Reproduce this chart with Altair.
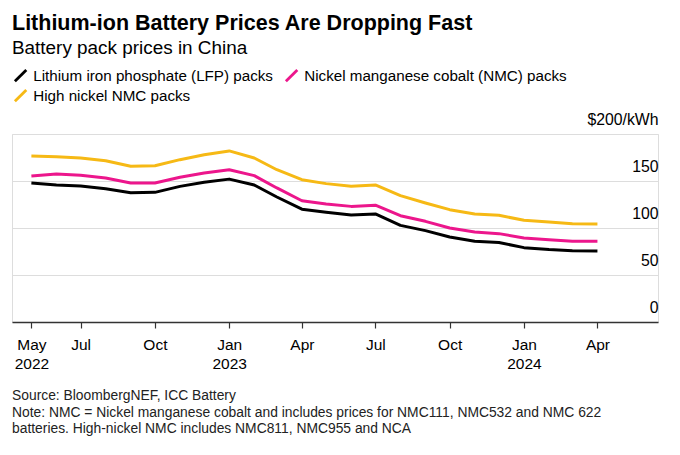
import altair as alt
import pandas as pd

FONT = "Liberation Sans"

months = [
    "2022-05-01", "2022-06-01", "2022-07-01", "2022-08-01", "2022-09-01", "2022-10-01",
    "2022-11-01", "2022-12-01", "2023-01-01", "2023-02-01", "2023-03-01", "2023-04-01",
    "2023-05-01", "2023-06-01", "2023-07-01", "2023-08-01", "2023-09-01", "2023-10-01",
    "2023-11-01", "2023-12-01", "2024-01-01", "2024-02-01", "2024-03-01", "2024-04-01",
]
lfp = [147.9, 145.7, 144.7, 141.8, 137.5, 137.9, 144.3, 148.6, 152.0, 145.7, 133.0, 120.0,
       116.7, 113.8, 115.0, 102.8, 97.2, 90.4, 85.8, 84.6, 79.1, 77.0, 75.9, 75.5]
nmc = [155.3, 157.4, 156.0, 153.2, 147.9, 147.9, 153.9, 158.5, 162.0, 155.7, 142.6, 129.0,
       125.5, 123.0, 124.3, 113.1, 107.1, 100.0, 95.7, 94.0, 89.4, 87.6, 85.8, 85.8]
high_ni = [176.7, 175.9, 174.5, 171.6, 165.6, 166.3, 172.7, 178.0, 182.0, 174.5, 162.0, 151.4,
           147.2, 144.3, 145.8, 134.4, 126.6, 119.5, 114.9, 113.5, 108.2, 106.4, 104.6, 104.3]

series_names = [
    "Lithium iron phosphate (LFP) packs",
    "Nickel manganese cobalt (NMC) packs",
    "High nickel NMC packs",
]
series_colors = ["#000000", "#ec168c", "#f6b915"]

y_ticks = [0, 50, 100, 150, 200]
x_ticks = [(2022, 5), (2022, 7), (2022, 10), (2023, 1), (2023, 4), (2023, 7),
           (2023, 10), (2024, 1), (2024, 4)]

footnote = [
    "Source: BloombergNEF, ICC Battery",
    "Note: NMC = Nickel manganese cobalt and includes prices for NMC111, NMC532 and NMC 622",
    "batteries. High-nickel NMC includes NMC811, NMC955 and NCA",
]

rows = []
for name, vals in zip(series_names, [lfp, nmc, high_ni]):
    for d, v in zip(months, vals):
        rows.append({"date": d, "series": name, "value": v})
df = pd.DataFrame(rows)

x_values = [alt.DateTime(year=y, month=m, date=1, utc=True) for y, m in x_ticks]

label_expr = (
    "[utcFormat(datum.value, '%b'), "
    "(utcFormat(datum.value, '%m') == '01' || utcFormat(datum.value, '%Y-%m') == '2022-05') "
    "? utcFormat(datum.value, '%Y') : '']"
)

lines = alt.Chart(df).mark_line(strokeWidth=3, strokeJoin="round").encode(
    x=alt.X(
        "date:T",
        scale=alt.Scale(
            type="utc",
            domain=[alt.DateTime(year=2022, month=4, date=7, utc=True),
                    alt.DateTime(year=2024, month=6, date=15, utc=True)],
        ),
        axis=alt.Axis(
            title=None, values=x_values, labelExpr=label_expr, grid=False,
            domainColor="#333333", domainWidth=1.5, tickColor="#333333",
            tickSize=6, tickWidth=1.2, labelFont=FONT, labelFontSize=15.5,
            labelColor="#000000", labelBaseline="alphabetic", labelPadding=21,
            labelLineHeight=19, labelFlush=False, labelOverlap=False,
        ),
    ),
    y=alt.Y(
        "value:Q",
        scale=alt.Scale(domain=[0, 200]),
        axis=alt.Axis(
            title=None, orient="right", values=y_ticks, domain=False, ticks=False,
            gridColor="#dddddd", gridWidth=1,
            labelExpr="datum.value == 200 ? '$200/kWh' : datum.label",
            labelAlign="right", labelPadding=0, labelBaseline="alphabetic",
            labelOffset=-10, labelFont=FONT, labelFontSize=15.8, labelColor="#000000",
        ),
    ),
    color=alt.Color(
        "series:N",
        scale=alt.Scale(domain=series_names, range=series_colors),
        legend=alt.Legend(
            title=None, orient="none", legendX=1, legendY=-66, direction="horizontal",
            columns=2, symbolType="M-1,1L1,-1", symbolSize=130, symbolStrokeWidth=2.8,
            labelFont=FONT, labelFontSize=15.2, labelColor="#000000", labelLimit=0,
            columnPadding=7, rowPadding=-3, labelOffset=5, padding=0,
        ),
    ),
)

foot = alt.Chart(pd.DataFrame({"k": [0]})).mark_text(
    align="left", baseline="alphabetic", font=FONT, fontSize=13.85, lineHeight=16.5,
    color="#222222", text=footnote,
).encode(x=alt.value(0), y=alt.value(266))

chart = alt.layer(lines, foot).properties(
    width=646,
    height=188,
    autosize=alt.AutoSizeParams(type="none"),
    padding={"left": 4, "top": 126, "right": 14, "bottom": 117},
    title=alt.TitleParams(
        text="Lithium-ion Battery Prices Are Dropping Fast",
        subtitle="Battery pack prices in China",
        anchor="start", frame="group", font=FONT, fontSize=21.5, fontWeight="bold",
        color="#000000", subtitleFont=FONT, subtitleFontSize=18.9,
        subtitleColor="#000000", subtitlePadding=5, offset=10,
    ),
).configure_view(stroke=None).configure(background="white")

chart.save("out.html", embed_options={"renderer": "svg", "actions": False})
